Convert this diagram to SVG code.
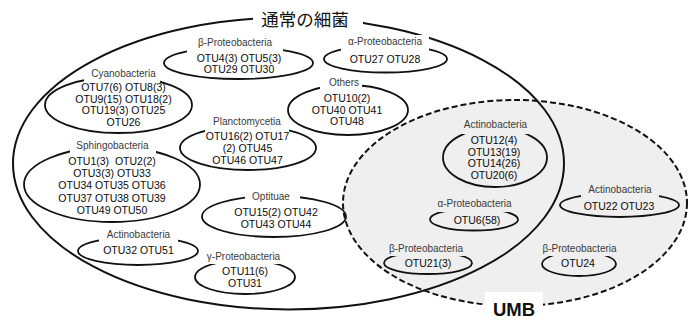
<svg xmlns="http://www.w3.org/2000/svg" width="689" height="320" viewBox="0 0 689 320">
<style>
.lbl{font-family:"Liberation Sans",Arial,sans-serif;font-size:10px;fill:#3a3a3a;text-anchor:middle}
.otu{font-family:"Liberation Sans",Arial,sans-serif;font-size:10.5px;fill:#0a0a0a;text-anchor:middle}
.el{fill:none;stroke:#111;stroke-width:1.8}
.bw{fill:#fff}
.bg{fill:#efefef}
</style>
<rect x="0" y="0" width="689" height="320" fill="#fff"/>
<g id="umb-set">
<ellipse cx="515" cy="203" rx="172" ry="103" fill="#efefef" stroke="none"/>
</g>
<g id="normal-set">
<ellipse cx="288.5" cy="163.5" rx="275.5" ry="146" fill="none" stroke="#111" stroke-width="2"/>
</g>
<g id="umb-outline">
<ellipse cx="515" cy="203" rx="172" ry="103" fill="none" stroke="#111" stroke-width="2" stroke-dasharray="6 3"/>
</g>
<g id="title-normal">
<rect class="bw" x="253" y="5" width="110" height="26"/>
<text x="305" y="26" font-family="'Noto Sans CJK JP',sans-serif" font-size="17.5" fill="#111" text-anchor="middle">通常の細菌</text>
</g>
<g id="title-umb">
<rect class="bw" x="485" y="292" width="58" height="28"/>
<text x="514" y="315.5" font-family="'Liberation Sans',Arial,sans-serif" font-size="18.5" font-weight="bold" fill="#111" text-anchor="middle">UMB</text>
</g>
<g id="beta-top">
<ellipse class="el" cx="238.5" cy="63" rx="74.5" ry="16"/>
<rect class="bw" x="187" y="36" width="96" height="17"/>
<text class="lbl" x="235" y="46">β-Proteobacteria</text>
<text class="otu" x="239" y="62">OTU4(3) OTU5(3)</text>
<text class="otu" x="239" y="73">OTU29 OTU30</text>
</g>
<g id="alpha-top">
<ellipse class="el" cx="385.5" cy="59" rx="61.5" ry="13.5"/>
<rect class="bw" x="341" y="35" width="88" height="16"/>
<text class="lbl" x="385" y="45">α-Proteobacteria</text>
<text class="otu" x="385" y="63">OTU27 OTU28</text>
</g>
<g id="cyano">
<ellipse class="el" cx="118.5" cy="105" rx="73.5" ry="28"/>
<rect class="bw" x="84" y="67" width="76" height="16"/>
<text class="lbl" x="123.5" y="77">Cyanobacteria</text>
<text class="otu" x="123.5" y="91">OTU7(6) OTU8(3)</text>
<text class="otu" x="123.5" y="102.5">OTU9(15) OTU18(2)</text>
<text class="otu" x="123.5" y="114">OTU19(3) OTU25</text>
<text class="otu" x="123.5" y="126">OTU26</text>
</g>
<g id="sphingo">
<ellipse class="el" cx="112" cy="184.5" rx="88" ry="37.5"/>
<rect class="bw" x="70" y="139" width="86" height="16"/>
<text class="lbl" x="112.5" y="149">Sphingobacteria</text>
<text class="otu" x="112" y="165" xml:space="preserve">OTU1(3)  OTU2(2)</text>
<text class="otu" x="112" y="177.2">OTU3(3) OTU33</text>
<text class="otu" x="112" y="189.4">OTU34 OTU35 OTU36</text>
<text class="otu" x="112" y="201.6">OTU37 OTU38 OTU39</text>
<text class="otu" x="112" y="213.8">OTU49 OTU50</text>
</g>
<g id="plancto">
<ellipse class="el" cx="248" cy="148" rx="68" ry="22"/>
<rect class="bw" x="205" y="115" width="84" height="17"/>
<text class="lbl" x="247" y="125">Planctomycetia</text>
<text class="otu" x="247.5" y="140">OTU16(2) OTU17</text>
<text class="otu" x="247.5" y="152">(2) OTU45</text>
<text class="otu" x="247.5" y="164">OTU46 OTU47</text>
</g>
<g id="others">
<ellipse class="el" cx="348" cy="110" rx="60" ry="25"/>
<rect class="bw" x="320" y="76" width="42" height="14"/>
<text class="lbl" x="344" y="86">Others</text>
<text class="otu" x="347" y="102">OTU10(2)</text>
<text class="otu" x="347" y="113.5">OTU40 OTU41</text>
<text class="otu" x="347" y="125">OTU48</text>
</g>
<g id="optituae">
<ellipse class="el" cx="274" cy="216.5" rx="72" ry="20.5"/>
<rect class="bw" x="245" y="190" width="55" height="14"/>
<text class="lbl" x="271" y="200">Optituae</text>
<text class="otu" x="276" y="216">OTU15(2) OTU42</text>
<text class="otu" x="276" y="227.5">OTU43 OTU44</text>
</g>
<g id="actino-left">
<ellipse class="el" cx="138" cy="251" rx="60" ry="14"/>
<rect class="bw" x="99" y="228" width="79" height="14"/>
<text class="lbl" x="138.5" y="238">Actinobacteria</text>
<text class="otu" x="138.5" y="254">OTU32 OTU51</text>
</g>
<g id="gamma">
<ellipse class="el" cx="245" cy="277" rx="50" ry="17"/>
<rect class="bw" x="202" y="250" width="83" height="14"/>
<text class="lbl" x="243.5" y="260">γ-Proteobacteria</text>
<text class="otu" x="245" y="275">OTU11(6)</text>
<text class="otu" x="245" y="287">OTU31</text>
</g>
<g id="actino-umb1">
<ellipse class="el" cx="495" cy="157.5" rx="52" ry="29.5"/>
<rect class="bg" x="455" y="118" width="81" height="16"/>
<text class="lbl" x="495.5" y="128">Actinobacteria</text>
<text class="otu" x="494" y="144">OTU12(4)</text>
<text class="otu" x="494" y="155.5">OTU13(19)</text>
<text class="otu" x="494" y="167">OTU14(26)</text>
<text class="otu" x="494" y="179">OTU20(6)</text>
</g>
<g id="alpha-umb">
<ellipse class="el" cx="474" cy="219.5" rx="44" ry="11"/>
<rect class="bg" x="431" y="197" width="87" height="15"/>
<text class="lbl" x="474.5" y="207">α-Proteobacteria</text>
<text class="otu" x="477" y="224">OTU6(58)</text>
</g>
<g id="beta-umb1">
<ellipse class="el" cx="428" cy="263" rx="44" ry="11"/>
<rect class="bg" x="384" y="242" width="86" height="14"/>
<text class="lbl" x="426" y="252">β-Proteobacteria</text>
<text class="otu" x="428" y="267">OTU21(3)</text>
</g>
<g id="actino-umb2">
<ellipse class="el" cx="619.5" cy="205" rx="59.5" ry="12"/>
<rect class="bg" x="581" y="183" width="78" height="14"/>
<text class="lbl" x="620" y="193">Actinobacteria</text>
<text class="otu" x="619" y="210">OTU22 OTU23</text>
</g>
<g id="beta-umb2">
<ellipse class="el" cx="579" cy="264" rx="37" ry="12"/>
<rect class="bg" x="537" y="242" width="85" height="14"/>
<text class="lbl" x="579.5" y="252">β-Proteobacteria</text>
<text class="otu" x="578" y="267">OTU24</text>
</g>
</svg>
